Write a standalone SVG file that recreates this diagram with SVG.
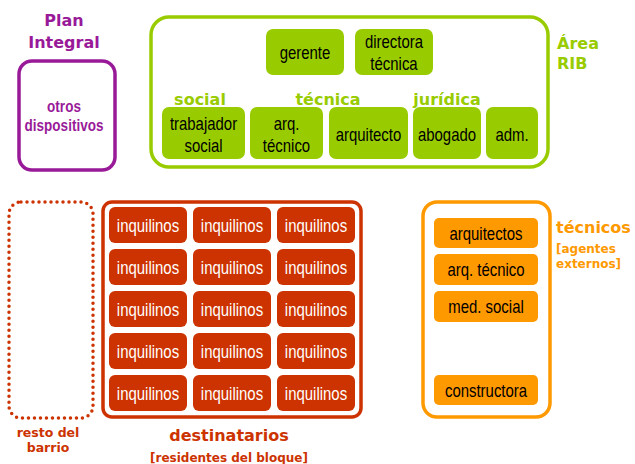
<svg xmlns="http://www.w3.org/2000/svg" width="635" height="464" viewBox="0 0 635 464">
  <style>
    .bold { font-family: "DejaVu Sans", Verdana, sans-serif; font-weight: bold; }
    .lbl { font-family: "Liberation Sans", Arial, sans-serif; font-size: 18px; text-anchor: middle; }
    .sub { font-family: "Liberation Sans", Arial, sans-serif; font-size: 16.5px; font-weight: bold; text-anchor: middle; }
    .g-box { fill: #99cc00; }
    .r-box { fill: #cc3300; }
    .o-box { fill: #ff9900; }
    .green { fill: #99cc00; }
    .red { fill: #cc3300; }
    .orange { fill: #ff9900; }
    .purple { fill: #991a99; }
    .white { fill: #ffffff; }
  </style>
  <rect width="635" height="464" fill="#ffffff"/>

  <!-- Plan Integral -->
  <g id="plan-integral">
    <text class="bold purple" x="64" y="26" font-size="16" text-anchor="middle">Plan</text>
    <text class="bold purple" x="64" y="48" font-size="16" text-anchor="middle">Integral</text>
    <rect x="19" y="61" width="96" height="109" rx="13" fill="none" stroke="#991a99" stroke-width="3.5"/>
    <text class="sub purple" transform="translate(64 112) scale(0.82 1)">otros</text>
    <text class="sub purple" transform="translate(64 131) scale(0.82 1)">dispositivos</text>
  </g>

  <!-- Área RIB frame and group headings -->
  <g id="area-rib">
    <rect x="151" y="17" width="397" height="150" rx="18" fill="none" stroke="#99cc00" stroke-width="3.5"/>
    <text class="bold green" x="557" y="49" font-size="16">Área</text>
    <text class="bold green" x="557" y="69" font-size="16">RIB</text>
    <text class="bold green" x="200" y="105" font-size="16" text-anchor="middle">social</text>
    <text class="bold green" x="328" y="105" font-size="16" text-anchor="middle">técnica</text>
    <text class="bold green" x="447" y="105" font-size="16" text-anchor="middle">jurídica</text>
  </g>
  <g id="gerente">
    <rect class="g-box" x="266" y="29" width="78" height="46" rx="7"/>
    <text class="lbl" transform="translate(305 59) scale(0.83 1)">gerente</text>
  </g>
  <g id="directora-tecnica">
    <rect class="g-box" x="355" y="29" width="78" height="46" rx="7"/>
    <text class="lbl" transform="translate(394 48) scale(0.83 1)">directora</text>
    <text class="lbl" transform="translate(394 70) scale(0.83 1)">técnica</text>
  </g>
  <g id="trabajador-social">
    <rect class="g-box" x="162" y="107" width="83" height="52" rx="7"/>
    <text class="lbl" transform="translate(203.5 130) scale(0.83 1)">trabajador</text>
    <text class="lbl" transform="translate(203.5 152) scale(0.83 1)">social</text>
  </g>
  <g id="arq-tecnico-rib">
    <rect class="g-box" x="250" y="107" width="73" height="52" rx="7"/>
    <text class="lbl" transform="translate(286.5 130) scale(0.83 1)">arq.</text>
    <text class="lbl" transform="translate(286.5 152) scale(0.83 1)">técnico</text>
  </g>
  <g id="arquitecto">
    <rect class="g-box" x="329" y="107" width="79" height="52" rx="7"/>
    <text class="lbl" transform="translate(368.5 141) scale(0.83 1)">arquitecto</text>
  </g>
  <g id="abogado">
    <rect class="g-box" x="413" y="107" width="68" height="52" rx="7"/>
    <text class="lbl" transform="translate(447 141) scale(0.83 1)">abogado</text>
  </g>
  <g id="adm">
    <rect class="g-box" x="486" y="107" width="52" height="52" rx="7"/>
    <text class="lbl" transform="translate(512 141) scale(0.83 1)">adm.</text>
  </g>

  <!-- resto del barrio -->
  <g id="resto-barrio">
    <rect x="9" y="202" width="84" height="216" rx="12" fill="none" stroke="#cc3300" stroke-width="3.5" stroke-linecap="round" stroke-dasharray="0 6"/>
    <text class="bold red" x="48" y="437" font-size="12.5" text-anchor="middle">resto del</text>
    <text class="bold red" x="48" y="452" font-size="12.5" text-anchor="middle">barrio</text>
  </g>

  <!-- destinatarios -->
  <g id="destinatarios">
    <rect x="103" y="202" width="258" height="215" rx="9" fill="none" stroke="#cc3300" stroke-width="3.5"/>
    <text class="bold red" x="229" y="441" font-size="16" text-anchor="middle">destinatarios</text>
    <text class="bold red" x="229" y="462" font-size="12" text-anchor="middle">[residentes del bloque]</text>
  </g>
  <g id="inquilinos">
    <g id="inq-1-1"><rect class="r-box" x="109" y="207" width="78" height="36" rx="6"/><text class="lbl white" transform="translate(148 232) scale(0.83 1)">inquilinos</text></g>
    <g id="inq-1-2"><rect class="r-box" x="193" y="207" width="78" height="36" rx="6"/><text class="lbl white" transform="translate(232 232) scale(0.83 1)">inquilinos</text></g>
    <g id="inq-1-3"><rect class="r-box" x="277" y="207" width="78" height="36" rx="6"/><text class="lbl white" transform="translate(316 232) scale(0.83 1)">inquilinos</text></g>
    <g id="inq-2-1"><rect class="r-box" x="109" y="249" width="78" height="36" rx="6"/><text class="lbl white" transform="translate(148 274) scale(0.83 1)">inquilinos</text></g>
    <g id="inq-2-2"><rect class="r-box" x="193" y="249" width="78" height="36" rx="6"/><text class="lbl white" transform="translate(232 274) scale(0.83 1)">inquilinos</text></g>
    <g id="inq-2-3"><rect class="r-box" x="277" y="249" width="78" height="36" rx="6"/><text class="lbl white" transform="translate(316 274) scale(0.83 1)">inquilinos</text></g>
    <g id="inq-3-1"><rect class="r-box" x="109" y="291" width="78" height="36" rx="6"/><text class="lbl white" transform="translate(148 316) scale(0.83 1)">inquilinos</text></g>
    <g id="inq-3-2"><rect class="r-box" x="193" y="291" width="78" height="36" rx="6"/><text class="lbl white" transform="translate(232 316) scale(0.83 1)">inquilinos</text></g>
    <g id="inq-3-3"><rect class="r-box" x="277" y="291" width="78" height="36" rx="6"/><text class="lbl white" transform="translate(316 316) scale(0.83 1)">inquilinos</text></g>
    <g id="inq-4-1"><rect class="r-box" x="109" y="333" width="78" height="36" rx="6"/><text class="lbl white" transform="translate(148 358) scale(0.83 1)">inquilinos</text></g>
    <g id="inq-4-2"><rect class="r-box" x="193" y="333" width="78" height="36" rx="6"/><text class="lbl white" transform="translate(232 358) scale(0.83 1)">inquilinos</text></g>
    <g id="inq-4-3"><rect class="r-box" x="277" y="333" width="78" height="36" rx="6"/><text class="lbl white" transform="translate(316 358) scale(0.83 1)">inquilinos</text></g>
    <g id="inq-5-1"><rect class="r-box" x="109" y="375" width="78" height="36" rx="6"/><text class="lbl white" transform="translate(148 400) scale(0.83 1)">inquilinos</text></g>
    <g id="inq-5-2"><rect class="r-box" x="193" y="375" width="78" height="36" rx="6"/><text class="lbl white" transform="translate(232 400) scale(0.83 1)">inquilinos</text></g>
    <g id="inq-5-3"><rect class="r-box" x="277" y="375" width="78" height="36" rx="6"/><text class="lbl white" transform="translate(316 400) scale(0.83 1)">inquilinos</text></g>
  </g>

  <!-- técnicos externos -->
  <g id="tecnicos">
    <rect x="423" y="202" width="127" height="215" rx="14" fill="none" stroke="#ff9900" stroke-width="3.5"/>
    <text class="bold orange" x="556" y="233" font-size="16">técnicos</text>
    <text class="bold orange" x="556" y="253" font-size="12">[agentes</text>
    <text class="bold orange" x="556" y="268" font-size="12">externos]</text>
  </g>
  <g id="arquitectos">
    <rect class="o-box" x="434" y="218" width="104" height="30" rx="5"/>
    <text class="lbl" transform="translate(486 239.5) scale(0.83 1)">arquitectos</text>
  </g>
  <g id="arq-tecnico-ext">
    <rect class="o-box" x="434" y="254" width="104" height="31" rx="5"/>
    <text class="lbl" transform="translate(486 276) scale(0.83 1)">arq. técnico</text>
  </g>
  <g id="med-social">
    <rect class="o-box" x="434" y="291" width="104" height="31" rx="5"/>
    <text class="lbl" transform="translate(486 312.5) scale(0.83 1)">med. social</text>
  </g>
  <g id="constructora">
    <rect class="o-box" x="434" y="375" width="104" height="30" rx="5"/>
    <text class="lbl" transform="translate(486 396.5) scale(0.83 1)">constructora</text>
  </g>

  <g id="connectors"/>
</svg>
